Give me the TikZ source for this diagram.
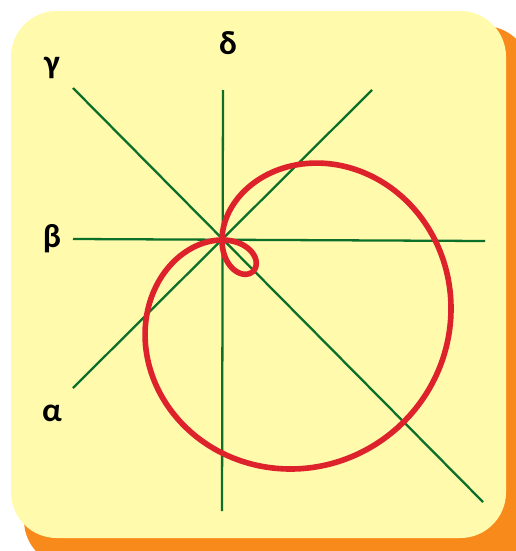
\documentclass[tikz,border=0pt]{standalone}
\usepackage{fontspec}
\setsansfont{Carlito}
\definecolor{panel}{RGB}{255,250,172}
\definecolor{shadow}{RGB}{248,138,28}
\definecolor{axisgreen}{RGB}{12,112,42}
\definecolor{curvered}{RGB}{222,34,44}

\begin{document}
\begin{tikzpicture}[x=0.02cm,y=-0.02cm,
  axis/.style={draw=axisgreen,line width=1.3pt},
  curve/.style={draw=curvered,line width=3.2pt,line join=round},
  lab/.style={font=\sffamily\bfseries\fontsize{19}{21}\selectfont}]
  \useasboundingbox (0,0) rectangle (516,551);
  \clip (0,0) rectangle (516,551);
  \fill[fill=shadow,rounded corners=26pt] (24,26) rectangle (530,566);
  \fill[fill=panel,rounded corners=26pt] (11,11) rectangle (506,538);

  \coordinate (O) at (222,240);
  \coordinate (g1) at (73,88);   \coordinate (g2) at (483,502);
  \coordinate (a1) at (73,388);  \coordinate (a2) at (372,90);
  \coordinate (b1) at (73,239);  \coordinate (b2) at (485,241);
  \coordinate (d1) at (223,90);  \coordinate (d2) at (222,511);

  \draw[axis] (g1) -- (g2);
  \draw[axis] (a1) -- (a2);
  \draw[axis] (b1) -- (b2);
  \draw[axis] (d1) -- (d2);

  \draw[curve] plot[domain=0:360,samples=181,smooth cycle]
    ({222+(106.5+150.6*cos(\x))*cos(\x+45)},{240+(106.5+150.6*cos(\x))*sin(\x+45)});

  \node[lab] (gamma) at (52,68) {γ};
  \node[lab] (delta) at (228,43) {δ};
  \node[lab] (beta)  at (52,239) {β};
  \node[lab] (alpha) at (52,413) {α};
\end{tikzpicture}
\end{document}
